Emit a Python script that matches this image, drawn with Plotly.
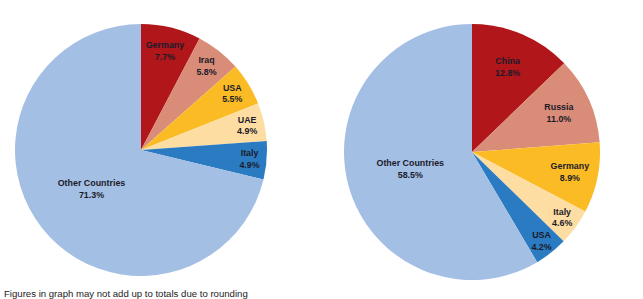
import plotly.graph_objects as go

left_labels = ["Germany", "Iraq", "USA", "UAE", "Italy", "Other Countries"]
left_values = [7.7, 5.8, 5.5, 4.9, 4.9, 71.3]
right_labels = ["China", "Russia", "Germany", "Italy", "USA", "Other Countries"]
right_values = [12.8, 11.0, 8.9, 4.6, 4.2, 58.5]
colors = ["#B0161A", "#D98C78", "#FBBB24", "#FDDDA2", "#2B7BC3", "#A4BFE4"]
footnote = "Figures in graph may not add up to totals due to rounding"

W, H = 643, 299

def dom(cx, cy, r):
    return dict(x=[(cx - r) / W, (cx + r) / W], y=[1 - (cy + r) / H, 1 - (cy - r) / H])

font = dict(family="Arial, Liberation Sans, sans-serif", size=9.3, color="#1B1B2A")

fig = go.Figure()
for labels, values, d in [(left_labels, left_values, dom(141, 150, 126)),
                          (right_labels, right_values, dom(472, 152, 128))]:
    fig.add_trace(go.Pie(
        labels=labels, values=values, sort=False, direction="clockwise", rotation=0,
        marker=dict(colors=colors, line=dict(width=0)),
        texttemplate="<b>%{label}</b><br><b>%{value:.1f}%</b>",
        textposition="inside", insidetextorientation="horizontal",
        textfont=font, domain=d, showlegend=False, hoverinfo="label+value",
    ))

fig.add_annotation(text=footnote, x=2 / W, y=1 - 293 / H, xref="paper", yref="paper",
                   xanchor="left", yanchor="middle", showarrow=False,
                   font=dict(family="Arial, Liberation Sans, sans-serif", size=9.6, color="#222222"))

fig.update_layout(width=W, height=H, margin=dict(l=0, r=0, t=0, b=0),
                  paper_bgcolor="white", plot_bgcolor="white",
                  uniformtext=dict(minsize=8, mode="show"))
fig.write_html("out.html")
